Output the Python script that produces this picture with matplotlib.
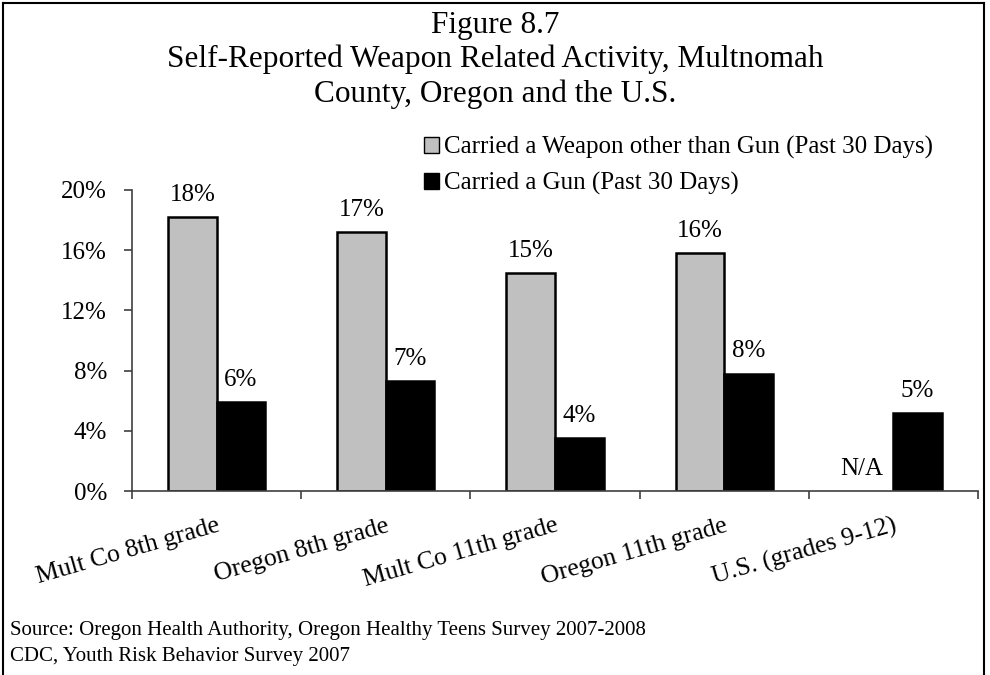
import matplotlib
matplotlib.use("Agg")
import matplotlib.pyplot as plt
import numpy as np
from matplotlib.lines import Line2D

plt.rcParams['font.family'] = ['Liberation Serif', 'DejaVu Serif']

categories = ["Mult Co 8th grade", "Oregon 8th grade", "Mult Co 11th grade",
              "Oregon 11th grade", "U.S. (grades 9-12)"]
weapon = [18.2, 17.2, 14.5, 15.8, None]
gun = [5.9, 7.3, 3.5, 7.8, 5.2]
weapon_labels = ["18%", "17%", "15%", "16%", "N/A"]
gun_labels = ["6%", "7%", "4%", "8%", "5%"]
yticks = [0, 4, 8, 12, 16, 20]
series_names = ["Carried a Weapon other than Gun (Past 30 Days)",
                "Carried a Gun (Past 30 Days)"]

W, H = 990, 675
fig = plt.figure(figsize=(9.9, 6.75), dpi=100)
ax = fig.add_axes([132 / W, 1 - 491 / H, (978 - 132) / W, (491 - 190) / H])

x = np.arange(len(categories))
bw = 0.287
wv = [v if v is not None else 0 for v in weapon]
b1 = ax.bar(x - bw / 2, wv, bw, color="#c0c0c0", edgecolor="black", linewidth=1.8,
            label=series_names[0])
for rect, v in zip(b1, weapon):
    if v is None:
        rect.set_visible(False)
b2 = ax.bar(x + bw / 2, gun, bw, color="black", edgecolor="black", linewidth=1.8,
            label=series_names[1])

for xi, v, lab in zip(x, weapon, weapon_labels):
    yy = v if v is not None else 0
    dx = 0 if v is not None else -5
    ax.annotate(lab, (xi - bw / 2, yy), xytext=(dx, 8), textcoords="offset points",
                ha="center", va="bottom", fontsize=18)
for xi, v, lab in zip(x, gun, gun_labels):
    ax.annotate(lab, (xi + bw / 2, v), xytext=(0, 8), textcoords="offset points",
                ha="center", va="bottom", fontsize=18)

ax.set_xlim(-0.5, len(categories) - 0.5)
ax.set_ylim(0, 20)
ax.set_yticks(yticks)
ax.set_yticklabels([f"{t}%" for t in yticks], fontsize=18)
ax.set_xticks(np.arange(len(categories) + 1) - 0.5)
ax.set_xticklabels([])
ax.tick_params(axis="x", length=6, width=1.2, color="#404040", direction="out")
ax.tick_params(axis="y", length=6, width=1.2, color="#404040", direction="out", pad=12)
for s in ["top", "right"]:
    ax.spines[s].set_visible(False)
for s in ["left", "bottom"]:
    ax.spines[s].set_color("#404040")
    ax.spines[s].set_linewidth(1.2)

for xi, lab in zip(x, categories):
    ax.annotate(lab, (xi, 0), xytext=(0, -17), textcoords="offset points",
                ha="right", va="top", rotation=16, rotation_mode="anchor",
                fontsize=18.5)

handles = [plt.Rectangle((0, 0), 1, 1, facecolor="#c0c0c0", edgecolor="black", lw=1),
           plt.Rectangle((0, 0), 1, 1, facecolor="black", edgecolor="black", lw=1)]
fig.legend(handles, series_names, loc="upper left", bbox_to_anchor=(424 / W, 1 - 136 / H),
           frameon=False, fontsize=18, handlelength=0.6, handleheight=0.6,
           handletextpad=0.2, labelspacing=0.52, borderaxespad=0, borderpad=0)

fig.text(0.5, 1 - 11 / H,
         "Figure 8.7\nSelf-Reported Weapon Related Activity, Multnomah\nCounty, Oregon and the U.S.",
         ha="center", va="top", fontsize=22.5, linespacing=1.22)

fig.text(10 / W, 1 - 631 / H, "Source: Oregon Health Authority, Oregon Healthy Teens Survey 2007-2008",
         ha="left", va="center", fontsize=15)
fig.text(10 / W, 1 - 656 / H, "CDC, Youth Risk Behavior Survey 2007",
         ha="left", va="center", fontsize=15)

# figure border
fig.add_artist(Line2D([3 / W, 3 / W], [0, 1 - 3 / H], transform=fig.transFigure, color="black", lw=1.5))
fig.add_artist(Line2D([3 / W, 984 / W], [1 - 3 / H, 1 - 3 / H], transform=fig.transFigure, color="black", lw=1.5))
fig.add_artist(Line2D([984 / W, 984 / W], [0, 1 - 3 / H], transform=fig.transFigure, color="black", lw=1.5))

fig.savefig("out.png", dpi=100)
